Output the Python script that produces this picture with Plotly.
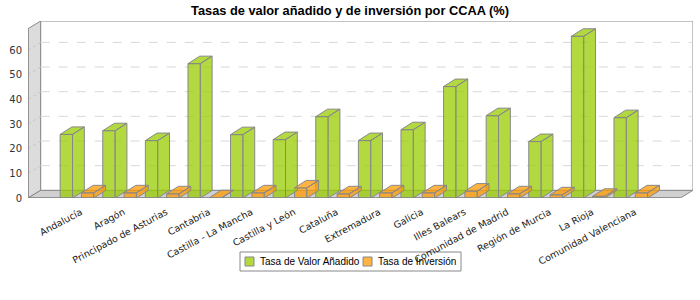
import plotly.graph_objects as go

# data
regiones = [
    "Andalucía", "Aragón", "Principado de Asturias", "Cantabria",
    "Castilla - La Mancha", "Castilla y León", "Cataluña", "Extremadura",
    "Galicia", "Illes Balears", "Comunidad de Madrid", "Región de Murcia",
    "La Rioja", "Comunidad Valenciana",
]
valor_anadido = [25.8, 27.3, 23.3, 54.5, 25.7, 23.7, 33.0, 23.3, 27.7, 45.2, 33.4, 22.9, 65.6, 32.6]
inversion = [2.1, 2.1, 1.7, 0.1, 2.1, 4.1, 1.7, 2.1, 2.1, 2.8, 1.7, 1.3, 0.7, 2.1]
y_ticks = [0, 10, 20, 30, 40, 50, 60]

series_names = ["Tasa de Valor Añadido", "Tasa de Inversión"]
fills = ["rgba(153,204,0,0.75)", "rgba(255,153,0,0.75)"]
edge = "rgb(136,136,136)"

# geometry of the fake 3D plot (data units)
x0, x1 = -1.150, 14.46
ymax = 71.8
wdx, wdy = 0.298, 3.12     # wall depth
bdx, bdy = 0.277, 3.04     # bar depth
bw = 0.29
offsets = [-0.395, 0.105]

# plot area in pixels, used for the hand-made legend
L, R, T, B = 28, 693, 21, 198


def px_x(p):
    return (p - L) / (R - L)


def px_y(p):
    return (B - p) / (B - T)


idx = list(range(len(regiones)))

fig = go.Figure()

for name, vals, col, off in zip(series_names, [valor_anadido, inversion], fills, offsets):
    fig.add_trace(go.Bar(
        x=idx, y=vals, width=bw, offset=off, name=name,
        marker=dict(color=col, line=dict(color=edge, width=1)),
        hoverinfo="y", showlegend=False,
    ))

# side and top faces of each bar
for name, vals, col, off in zip(series_names, [valor_anadido, inversion], fills, offsets):
    xs, ys = [], []
    for i, v in zip(idx, vals):
        xl = i + off
        xr = xl + bw
        xs += [xr, xr + bdx, xr + bdx, xr, xr, None]
        ys += [0, bdy, v + bdy, v, 0, None]
        xs += [xl, xl + bdx, xr + bdx, xr, xl, None]
        ys += [v, v + bdy, v + bdy, v, v, None]
    fig.add_trace(go.Scatter(
        x=xs, y=ys, mode="lines", fill="toself", fillcolor=col,
        line=dict(color=edge, width=1), showlegend=False, hoverinfo="skip",
    ))

shapes = []
# legend box drawn by hand (plotly's legend spacing is much wider); kept below the tick labels
shapes.append(dict(type="rect", xref="paper", yref="paper", layer="below",
                   x0=px_x(240), x1=px_x(461), y0=px_y(271), y1=px_y(252),
                   fillcolor="white", line=dict(color=edge, width=1)))
# left wall
shapes.append(dict(type="path", layer="below",
                   path=f"M{x0},0 L{x0},{ymax - wdy} L{x0 + wdx},{ymax} L{x0 + wdx},{wdy} Z",
                   fillcolor="#dcdcdc", line=dict(color=edge, width=1)))
# floor
shapes.append(dict(type="path", layer="below",
                   path=f"M{x0},0 L{x0 + wdx},{wdy} L{x1},{wdy} L{x1 - wdx},0 Z",
                   fillcolor="#d0d0d0", line=dict(color=edge, width=1)))
# back wall
shapes.append(dict(type="rect", layer="below", x0=x0 + wdx, x1=x1, y0=wdy, y1=ymax,
                   fillcolor="white", line=dict(color=edge, width=1)))
# grid lines on back and left wall
for t in y_ticks[1:]:
    shapes.append(dict(type="line", layer="below", x0=x0 + wdx, x1=x1, y0=t + wdy, y1=t + wdy,
                       line=dict(color="#d8d8d8", width=1, dash="dash")))
    shapes.append(dict(type="line", layer="below", x0=x0, x1=x0 + wdx, y0=t, y1=t + wdy,
                       line=dict(color="#c4c4c4", width=1, dash="dot")))
# front axis lines
shapes.append(dict(type="line", x0=x0, x1=x1 - wdx, y0=0, y1=0,
                   line=dict(color=edge, width=1.5)))
shapes.append(dict(type="line", x0=x0, x1=x0, y0=0, y1=ymax - wdy,
                   line=dict(color=edge, width=1.5)))

annotations = []
for name, col, sx in zip(series_names, fills, [245, 363]):
    shapes.append(dict(type="rect", xref="paper", yref="paper",
                       x0=px_x(sx), x1=px_x(sx + 9), y0=px_y(266), y1=px_y(257),
                       fillcolor=col, line=dict(color=edge, width=1)))
    annotations.append(dict(text=name, xref="paper", yref="paper", x=px_x(sx + 13), y=px_y(261.5),
                            xanchor="left", yanchor="middle", showarrow=False,
                            font=dict(family="Liberation Sans", size=10, color="black")))

fig.update_layout(
    width=700, height=300,
    margin=dict(l=L, r=700 - R, t=T, b=300 - B, autoexpand=False),
    paper_bgcolor="white", plot_bgcolor="rgba(0,0,0,0)",
    title=dict(text="<b>Tasas de valor añadido y de inversión por CCAA (%)</b>",
               x=0.5, xanchor="center", y=0.965, yanchor="middle", automargin=False,
               font=dict(family="Liberation Sans", size=12.8, color="black")),
    font=dict(family="DejaVu Sans", size=9, color="#333333"),
    barmode="overlay",
    showlegend=False,
    shapes=shapes,
    annotations=annotations,
    xaxis=dict(range=[x0, x1], tickvals=idx, ticktext=regiones, tickangle=-28,
               showgrid=False, zeroline=False, showline=False, ticks="", automargin=False,
               ticklabelshift=4, ticklabelstandoff=6,
               tickfont=dict(family="DejaVu Sans", size=9.5, color="#222222")),
    yaxis=dict(range=[0, ymax], tickvals=y_ticks, showgrid=False, zeroline=False,
               showline=False, ticks="", ticklabelstandoff=5, automargin=False,
               tickfont=dict(family="DejaVu Sans", size=10, color="#333333")),
)

# the page body has a default 8px margin; drop it so the figure fills the window
fig.write_html("out.html", config={"displayModeBar": False},
               post_script="document.body.style.margin='0px';")
